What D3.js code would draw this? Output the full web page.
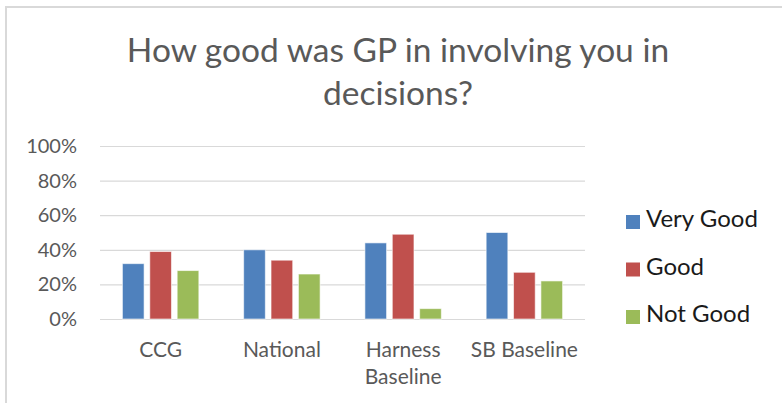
<!DOCTYPE html>
<html>
<head>
<meta charset="utf-8">
<script src="https://cdn.jsdelivr.net/npm/d3@7"></script>
<style>
  html, body { margin: 0; padding: 0; background: #fff; }
  svg { display: block; }
</style>
</head>
<body>
<svg id="chart" width="782" height="403"></svg>
<script>
const categories = [["CCG"], ["National"], ["Harness", "Baseline"], ["SB Baseline"]];
const seriesNames = ["Very Good", "Good", "Not Good"];
const veryGood = [32, 40, 44, 50];
const good = [39, 34, 49, 27];
const notGood = [28, 26, 6, 22];
const yTicks = [0, 20, 40, 60, 80, 100];
const colors = ["#4F81BD", "#C0504D", "#9BBB59"];

const seriesValues = [veryGood, good, notGood];
const catKeys = categories.map(c => c.join(" "));

const svg = d3.select("#chart");
const font = "Lato, 'Open Sans', sans-serif";

// chart border
svg.append("rect")
  .attr("x", 6).attr("y", 7)
  .attr("width", 800).attr("height", 420)
  .attr("fill", "#fff")
  .attr("stroke", "#d9d9d9").attr("stroke-width", 2);

// title
const title = svg.append("text")
  .attr("text-anchor", "middle")
  .attr("fill", "#595959")
  .style("font-family", font)
  .style("font-size", "33.5px");
title.append("tspan").attr("x", 398).attr("y", 62).text("How good was GP in involving you in");
title.append("tspan").attr("x", 398).attr("y", 105).text("decisions?");

const plot = { left: 100, right: 585, top: 146, bottom: 319 };

const y = d3.scaleLinear().domain([0, 100]).range([plot.bottom, plot.top]);
const x0 = d3.scaleBand().domain(catKeys).range([plot.left, plot.right]).padding(0);
const groupPad = 22.4;
const x1 = d3.scaleBand().domain(seriesNames)
  .range([groupPad, x0.bandwidth() - groupPad])
  .paddingInner(0.208).paddingOuter(0);

// gridlines
const yAxis = d3.axisLeft(y)
  .tickValues(yTicks)
  .tickSize(-(plot.right - plot.left))
  .tickPadding(23)
  .tickFormat(d => d + "%");
const gy = svg.append("g")
  .attr("transform", `translate(${plot.left},0)`)
  .call(yAxis);
gy.select(".domain").remove();
gy.selectAll(".tick line").attr("stroke", "#d9d9d9").attr("stroke-width", 1.2);
gy.selectAll(".tick text")
  .attr("fill", "#595959")
  .style("font-family", font)
  .style("font-size", "20px");

// bars
seriesNames.forEach((s, si) => {
  svg.append("g").selectAll("rect")
    .data(seriesValues[si].map((v, i) => ({ cat: catKeys[i], v })))
    .join("rect")
    .attr("x", d => x0(d.cat) + x1(s))
    .attr("y", d => y(d.v))
    .attr("width", x1.bandwidth())
    .attr("height", d => y(0) - y(d.v))
    .attr("fill", colors[si])
    .attr("stroke", "#ffffff")
    .attr("stroke-opacity", 0.6)
    .attr("stroke-width", 1);
});

// category labels
const xAxis = d3.axisBottom(x0).tickSize(0).tickFormat(() => "");
const gx = svg.append("g").attr("transform", `translate(0,${plot.bottom})`).call(xAxis);
gx.select(".domain").remove();
gx.selectAll(".tick").each(function(d, i) {
  const t = d3.select(this).append("text")
    .attr("text-anchor", "middle")
    .attr("fill", "#595959")
    .style("font-family", font)
    .style("font-size", "21px");
  categories[i].forEach((line, li) => {
    t.append("tspan").attr("x", 0).attr("y", 38 + li * 27).text(line);
  });
});

// legend
const legend = svg.append("g");
seriesNames.forEach((s, i) => {
  const by = 227 + i * 47.5;
  legend.append("rect")
    .attr("x", 626).attr("y", by - 12)
    .attr("width", 14).attr("height", 14)
    .attr("fill", colors[i]);
  legend.append("text")
    .attr("x", 646).attr("y", by)
    .attr("fill", "#1a1a1a")
    .style("font-family", font)
    .style("font-size", "24px")
    .text(s);
});
</script>
</body>
</html>
